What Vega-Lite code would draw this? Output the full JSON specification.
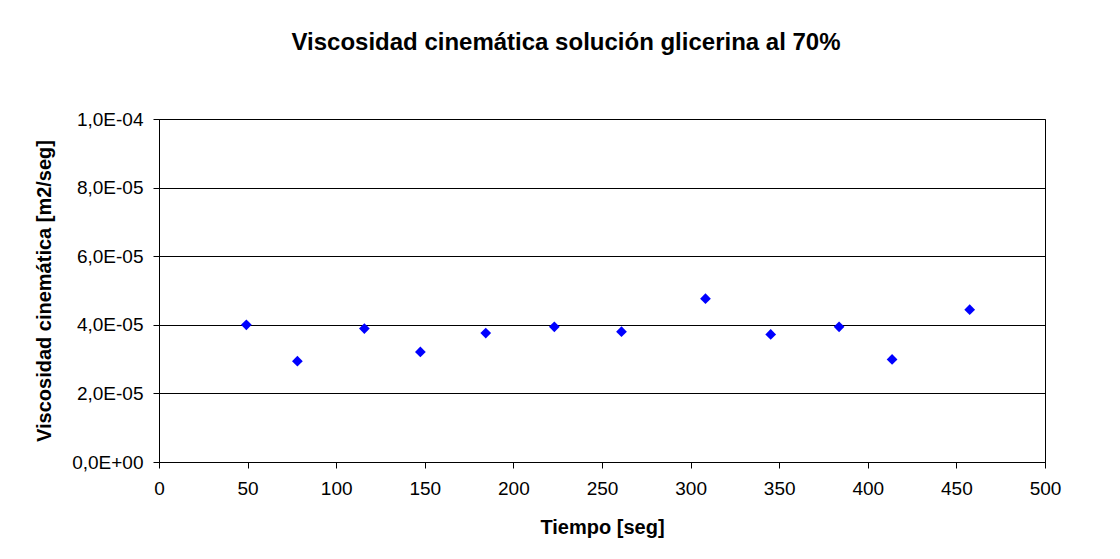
{
  "$schema": "https://vega.github.io/schema/vega-lite/v6.json",
  "width": 886,
  "height": 343,
  "autosize": {"type": "none"},
  "padding": {"left": 159, "top": 119, "right": 75, "bottom": 97},
  "background": "white",
  "title": {
    "text": "Viscosidad cinemática solución glicerina al 70%",
    "font": "Liberation Sans",
    "fontSize": 24,
    "fontWeight": "bold",
    "color": "#000000",
    "anchor": "middle",
    "baseline": "alphabetic",
    "offset": 36,
    "dx": -36
  },
  "data": {
    "values": [
      {"tiempo": 49.3, "viscosidad": 0.0000400},
      {"tiempo": 78.1, "viscosidad": 0.0000294},
      {"tiempo": 115.9, "viscosidad": 0.0000389},
      {"tiempo": 147.5, "viscosidad": 0.0000321},
      {"tiempo": 184.4, "viscosidad": 0.0000376},
      {"tiempo": 223.1, "viscosidad": 0.0000394},
      {"tiempo": 261.0, "viscosidad": 0.0000380},
      {"tiempo": 308.4, "viscosidad": 0.0000476},
      {"tiempo": 345.2, "viscosidad": 0.0000372},
      {"tiempo": 383.8, "viscosidad": 0.0000394},
      {"tiempo": 413.7, "viscosidad": 0.0000299},
      {"tiempo": 457.5, "viscosidad": 0.0000444}
    ]
  },
  "mark": {"type": "point", "shape": "diamond", "filled": true, "color": "#0000FF", "size": 115, "opacity": 1},
  "encoding": {
    "x": {
      "field": "tiempo",
      "type": "quantitative",
      "scale": {"domain": [0, 500], "nice": false, "zero": true},
      "axis": {
        "title": "Tiempo [seg]",
        "values": [0, 50, 100, 150, 200, 250, 300, 350, 400, 450, 500],
        "grid": false,
        "domainColor": "#000000",
        "domainWidth": 1,
        "tickColor": "#000000",
        "tickSize": 6,
        "labelFont": "Liberation Sans",
        "labelFontSize": 19,
        "labelColor": "#000000",
        "labelPadding": 11,
        "labelFlush": false,
        "titleFont": "Liberation Sans",
        "titleFontSize": 20,
        "titleFontWeight": "bold",
        "titleColor": "#000000",
        "titleBaseline": "alphabetic",
        "titleY": 71
      }
    },
    "y": {
      "field": "viscosidad",
      "type": "quantitative",
      "scale": {"domain": [0, 0.0001], "nice": false},
      "axis": {
        "title": "Viscosidad cinemática [m2/seg]",
        "values": [0, 0.00002, 0.00004, 0.00006, 0.00008, 0.0001],
        "labelExpr": "datum.value == 0 ? '0,0E+00' : replace(format(datum.value / pow(10, floor(log(datum.value) / LN10 + 1e-9)), '.1f'), '.', ',') + 'E-0' + abs(floor(log(datum.value) / LN10 + 1e-9))",
        "grid": true,
        "gridColor": "#000000",
        "gridWidth": 1,
        "gridOpacity": 1,
        "domainColor": "#000000",
        "tickColor": "#000000",
        "tickSize": 6,
        "labelFont": "Liberation Sans",
        "labelFontSize": 19,
        "labelColor": "#000000",
        "labelPadding": 10,
        "labelFlush": false,
        "titleFont": "Liberation Sans",
        "titleFontSize": 20,
        "titleFontWeight": "bold",
        "titleColor": "#000000",
        "titleBaseline": "alphabetic",
        "titleX": -109,
        "titleY": 171.5
      }
    }
  },
  "config": {
    "view": {"stroke": "#000000", "strokeWidth": 1}
  }
}
